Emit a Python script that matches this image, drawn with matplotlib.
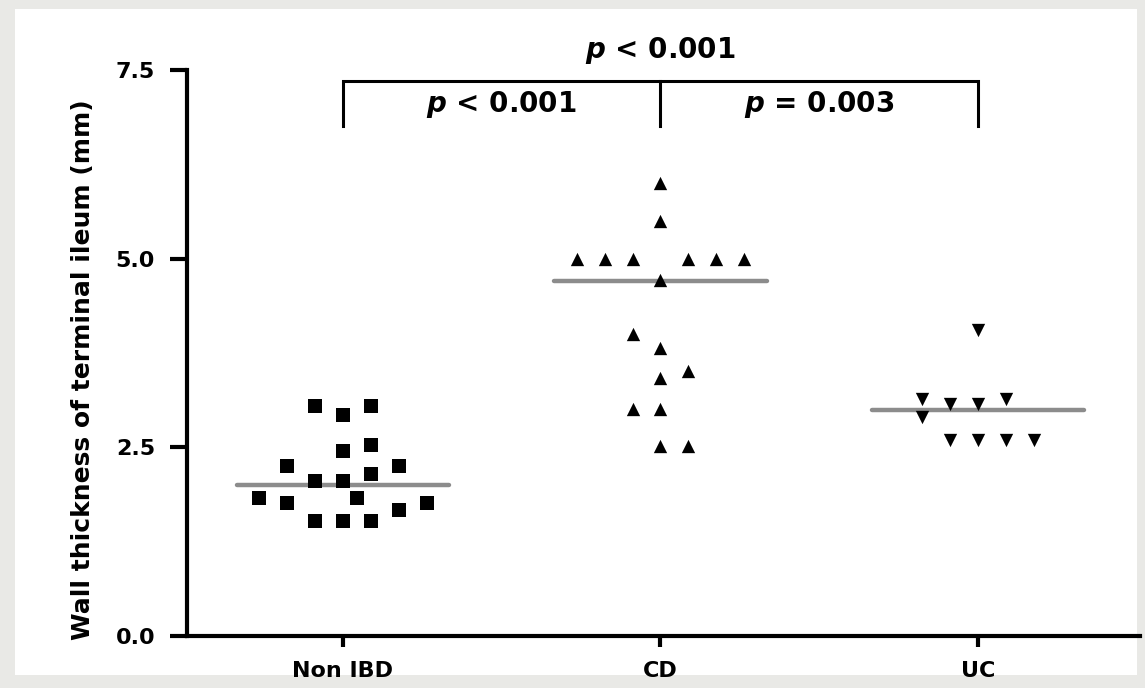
import matplotlib
matplotlib.use('Agg')

import matplotlib.pyplot as plt
from matplotlib.patches import Rectangle

# === Data ===
groups = ["Non IBD", "CD", "UC"]

non_ibd = [3.05, 2.93, 3.05, 2.45, 2.53, 2.25, 2.25, 2.05, 2.05, 2.15,
           1.83, 1.76, 1.83, 1.76, 1.67, 1.53, 1.53, 1.53]
cd = [6.0, 5.5, 5.0, 5.0, 5.0, 5.0, 5.0, 5.0, 4.72, 4.0, 3.82, 3.51,
      3.42, 3.01, 3.01, 2.52, 2.52]
uc = [4.05, 3.14, 2.9, 3.07, 3.07, 3.14, 2.6, 2.6, 2.6, 2.6]

medians = [2.0, 4.7, 3.0]

# column slot of each point in the scatter (GraphPad-style layout)
non_ibd_slot = [-1, 0, 1, 0, 1, -2, 2, -1, 0, 1, -3, -2, 0.5, 3, 2, -1, 0, 1]
cd_slot = [0, 0, -3, -2, -1, 1, 2, 3, 0, -1, 0, 1, 0, -1, 0, 0, 1]
uc_slot = [0, -2, -2, -1, 0, 1, -1, 0, 1, 2]

# significance brackets
pairs = [(1, 2, "< 0.001"), (2, 3, "= 0.003")]
overall = "< 0.001"

plt.rcParams['mathtext.fontset'] = 'custom'
plt.rcParams['mathtext.it'] = 'DejaVu Sans:bold:italic'
plt.rcParams['font.family'] = 'DejaVu Sans'
plt.rcParams['font.weight'] = 'bold'

fig = plt.figure(figsize=(11.45, 6.88), dpi=100, facecolor='#e9e9e6')
bg = Rectangle((15 / 1145, 13 / 688), 1122 / 1145, 666 / 688,
               transform=fig.transFigure, facecolor='white',
               edgecolor='none', zorder=-10)
fig.patches.append(bg)

ax = fig.add_axes([187 / 1145, 52 / 688, 953 / 1145, 566 / 688])
ax.set_facecolor('none')
ax.set_zorder(5)

step = 0.088
markers = ['s', '^', 'v']
for i, (vals, slots) in enumerate([(non_ibd, non_ibd_slot), (cd, cd_slot), (uc, uc_slot)]):
    xs = [i + 1 + s * step for s in slots]
    ax.plot([i + 1 - 0.335, i + 1 + 0.335], [medians[i]] * 2,
            color='#8c8c8c', lw=3.2, solid_capstyle='round', zorder=2)
    ax.scatter(xs, vals, marker=markers[i], s=92, color='black',
               linewidths=0, zorder=3)

# === Axes style ===
ax.set_xlim(0.509, 3.51)
ax.set_ylim(0, 7.5)
ax.set_yticks([0, 2.5, 5.0, 7.5])
ax.set_yticklabels(["0.0", "2.5", "5.0", "7.5"])
ax.set_xticks([1, 2, 3])
ax.set_xticklabels(groups)
for side in ['top', 'right']:
    ax.spines[side].set_visible(False)
for side in ['left', 'bottom']:
    ax.spines[side].set_linewidth(3)
ax.tick_params(axis='y', length=12, width=3, pad=11, labelsize=16)
ax.tick_params(axis='x', length=8, width=3, pad=10, labelsize=16)
for lbl in ax.get_xticklabels() + ax.get_yticklabels():
    lbl.set_fontweight('bold')

ax.set_ylabel("Wall thickness of terminal ileum (mm)", fontsize=18,
              fontweight='bold')
ax.yaxis.set_label_coords(-0.097, 0.47)

# === Brackets ===
y_top, y_leg = 7.36, 6.76
ax.plot([1, 1, 3, 3], [y_leg, y_top, y_top, y_leg], color='black', lw=2.2,
        clip_on=False, solid_joinstyle='miter')
ax.plot([2, 2], [y_top, y_leg], color='black', lw=2.2, clip_on=False)
for a, b, txt in pairs:
    ax.text((a + b) / 2, 7.04, r"$p$ " + txt, ha='center', va='center',
            fontsize=20, fontweight='bold')
ax.text(2, 7.76, r"$p$ " + overall, ha='center', va='center',
        fontsize=20, fontweight='bold', clip_on=False)

plt.savefig("out.png", dpi=100, facecolor=fig.get_facecolor())
